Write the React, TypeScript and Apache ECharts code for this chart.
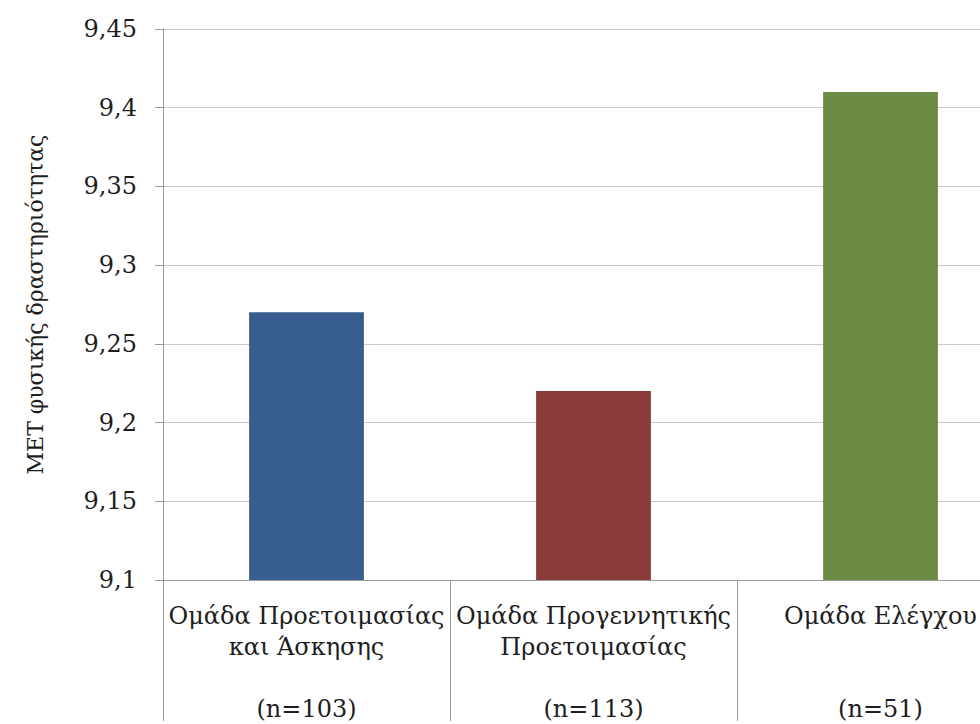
import React, { useEffect, useRef } from "react";
import * as echarts from "echarts";

const categories = [
  "Ομάδα Προετοιμασίας\nκαι Άσκησης\n\n(n=103)",
  "Ομάδα Προγεννητικής\nΠροετοιμασίας\n\n(n=113)",
  "Ομάδα Ελέγχου\n\n\n(n=51)",
];
const values = [9.27, 9.22, 9.41];
const barColors = ["#375e8e", "#8b3c3a", "#6e8b46"];
const yName = "MET φυσικής δραστηριότητας";

export default function App() {
  const ref = useRef<HTMLDivElement>(null);
  useEffect(() => {
    if (!ref.current) return;
    const chart = echarts.init(ref.current, null, { renderer: "svg" });
    const font = "DejaVu Serif";
    chart.setOption({
      animation: false,
      backgroundColor: "#ffffff",
      grid: { left: 163, top: 29, bottom: 141, right: 0, containLabel: false },
      xAxis: {
        type: "category",
        data: categories,
        axisLine: { show: true, lineStyle: { color: "#9a9a9a", width: 1 } },
        axisTick: { show: true, length: 141, interval: 0, lineStyle: { color: "#9a9a9a" } },
        axisLabel: {
          interval: 0,
          fontFamily: font,
          fontSize: 24,
          lineHeight: 31,
          color: "#1e1e1e",
          margin: 20,
        },
      },
      yAxis: {
        type: "value",
        min: 9.1,
        max: 9.45,
        interval: 0.05,
        name: yName,
        nameLocation: "middle",
        nameGap: 117,
        nameRotate: 90,
        nameTextStyle: { fontFamily: font, fontSize: 22, color: "#1e1e1e" },
        axisLine: { show: true, lineStyle: { color: "#9a9a9a" } },
        axisTick: { show: true, length: 8, lineStyle: { color: "#9a9a9a" } },
        axisLabel: {
          fontFamily: font,
          fontSize: 24,
          color: "#1e1e1e",
          margin: 26,
          formatter: (v: number) => String(parseFloat(v.toFixed(2))).replace(".", ","),
        },
        splitLine: { show: true, lineStyle: { color: "#c8c8c8", width: 1 } },
      },
      series: [
        {
          type: "bar",
          data: values.map((v, i) => ({ value: v, itemStyle: { color: barColors[i] } })),
          barWidth: "40%",
        },
      ],
    });
    return () => chart.dispose();
  }, []);
  return (
    <div style={{ position: "fixed", left: 0, top: 0, width: 980, height: 724, overflow: "hidden", background: "#fff" }}>
      <div ref={ref} style={{ width: 1024, height: 724 }} />
    </div>
  );
}
